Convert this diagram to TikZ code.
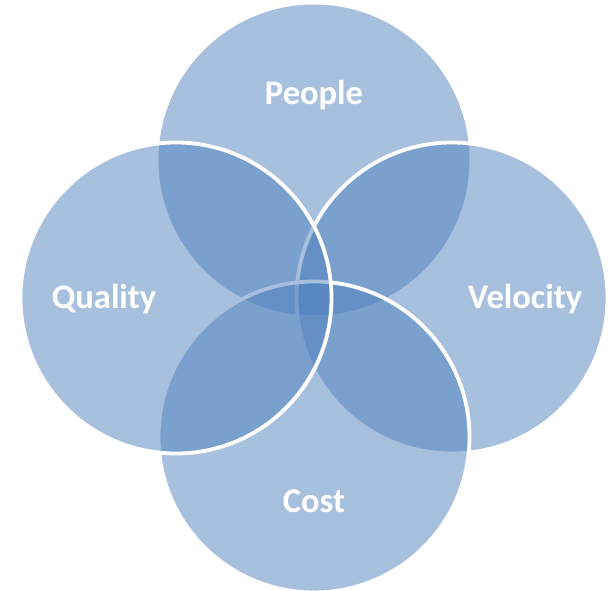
\documentclass[tikz,border=0pt]{standalone}
\usepackage{fontspec}
\setmainfont{Carlito}
\definecolor{acc}{HTML}{4F81BD}
\begin{document}
\begin{tikzpicture}[x=1pt,y=-1pt,
  disc/.style={circle,inner sep=0pt,outer sep=0pt,minimum size=311pt,fill=acc,fill opacity=0.5},
  ring/.style={disc,draw=white,line width=3.8pt},
  lbl/.style={text=white,font=\fontsize{34.5}{41}\selectfont\bfseries,anchor=base,inner sep=0pt}]
\useasboundingbox (0,0) rectangle (613,591);
\node[disc] (people)   at (314,160) {};
\node[ring] (velocity) at (452,298) {};
\node[ring] (cost)     at (314,437) {};
\node[ring] (quality)  at (176,298) {};
\node[lbl] (tpeople)   at (314,105) {People};
\node[lbl] (tquality)  at (104,308) {Quality};
\node[lbl] (tvelocity) at (525,308) {Velocity};
\node[lbl] (tcost)     at (314,512) {Cost};
\end{tikzpicture}
\end{document}
